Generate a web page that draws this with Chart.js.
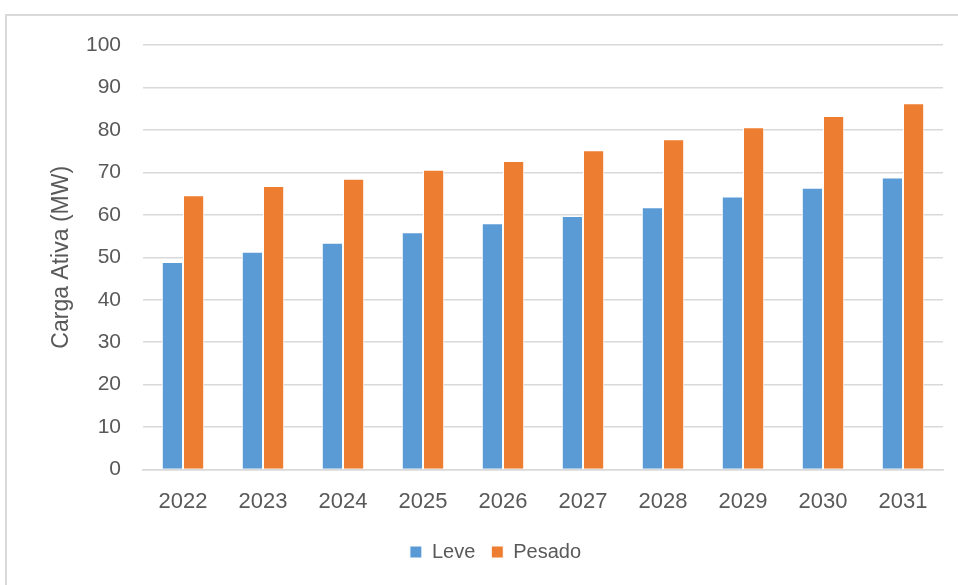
<!DOCTYPE html>
<html>
<head>
<meta charset="utf-8">
<script src="https://cdn.jsdelivr.net/npm/chart.js@4/dist/chart.umd.min.js"></script>
<style>
  html, body { margin: 0; padding: 0; background: #fff; overflow: hidden; }
  #frame {
    position: absolute; left: 5px; top: 14px; width: 1000px; height: 640px;
    border: 2px solid #d9d9d9; box-sizing: border-box;
  }
  #chart { position: absolute; left: 0; top: 0; }
</style>
</head>
<body>
<div id="frame"></div>
<canvas id="chart" width="958" height="585"></canvas>
<script>
const years = ['2022', '2023', '2024', '2025', '2026', '2027', '2028', '2029', '2030', '2031'];
const leve = [48.9, 51.3, 53.4, 55.9, 58.0, 59.7, 61.8, 64.3, 66.4, 68.8];
const pesado = [64.6, 66.8, 68.5, 70.6, 72.7, 75.2, 77.8, 80.6, 83.3, 86.3];
const yTicks = [0, 10, 20, 30, 40, 50, 60, 70, 80, 90, 100];

const textColor = '#595959';
const fontFamily = '"Liberation Sans", Arial, sans-serif';

Chart.defaults.color = textColor;
Chart.defaults.font.family = fontFamily;

const chartData = {
  labels: years,
  datasets: [
    {
      label: 'Leve',
      data: leve,
      backgroundColor: '#5b9bd5',
      borderColor: '#ffffff',
      borderWidth: 1,
      barPercentage: 1,
      categoryPercentage: 0.53,
    },
    {
      label: 'Pesado',
      data: pesado,
      backgroundColor: '#ed7d31',
      borderColor: '#ffffff',
      borderWidth: 1,
      barPercentage: 1,
      categoryPercentage: 0.53,
    },
  ],
};

const chartOptions = {
  responsive: false,
  animation: false,
  layout: {
    padding: { left: 48, right: 15, top: 45, bottom: 13 },
  },
  scales: {
    x: {
      grid: { display: false },
      border: { color: '#d9d9d9', width: 1.5 },
      ticks: { color: textColor, font: { size: 22 }, padding: 11 },
    },
    y: {
      min: 0,
      max: 100,
      afterFit: (scale) => { scale.width = 95; },
      afterBuildTicks: (scale) => { scale.ticks = yTicks.map(v => ({ value: v })); },
      grid: { color: '#d9d9d9', lineWidth: 1.5, drawTicks: false },
      border: { display: false },
      ticks: { color: textColor, font: { size: 21 }, padding: 22 },
      title: {
        display: true,
        text: 'Carga Ativa (MW)',
        color: textColor,
        font: { size: 23 },
        padding: 0,
      },
    },
  },
  plugins: {
    legend: {
      position: 'bottom',
      labels: {
        color: textColor,
        font: { size: 20 },
        boxWidth: 12,
        boxHeight: 12,
        padding: 16,
      },
    },
    tooltip: { enabled: false },
  },
};

new Chart(document.getElementById('chart').getContext('2d'), {
  type: 'bar',
  data: chartData,
  options: chartOptions,
});
</script>
</body>
</html>
